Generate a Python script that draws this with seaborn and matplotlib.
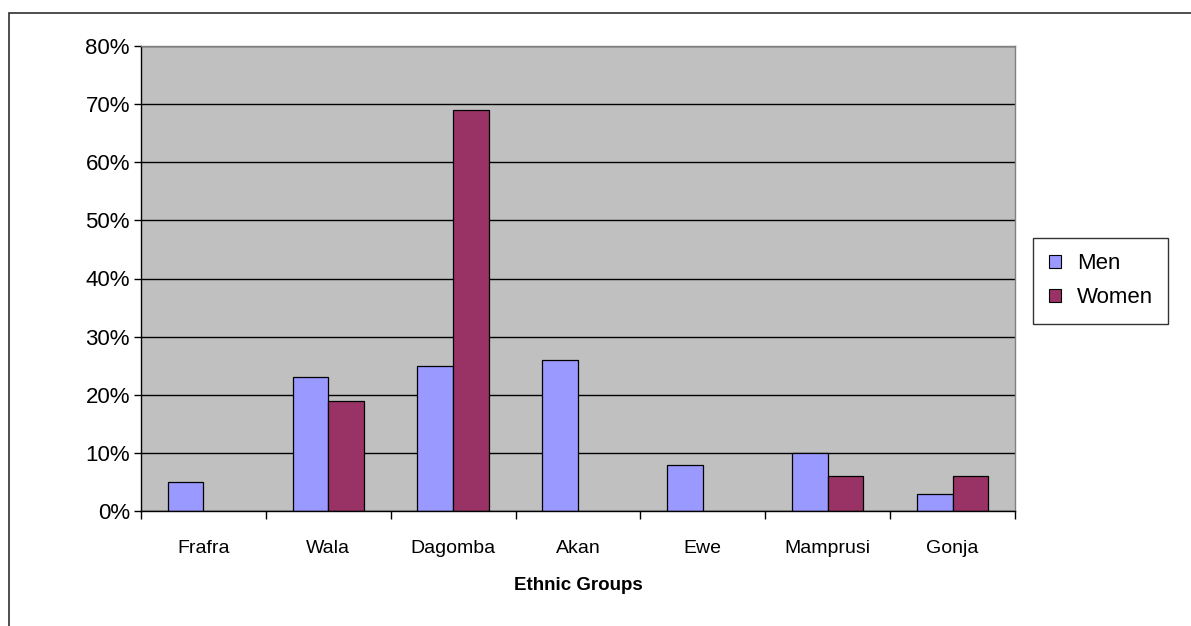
import numpy as np
import pandas as pd
import matplotlib
matplotlib.use("Agg")
import matplotlib.pyplot as plt
from matplotlib.patches import Rectangle
from matplotlib.ticker import PercentFormatter, FixedLocator
import seaborn as sns

groups = ["Frafra", "Wala", "Dagomba", "Akan", "Ewe", "Mamprusi", "Gonja"]
men = [5, 23, 25, 26, 8, 10, 3]
women = [np.nan, 19, 69, np.nan, np.nan, 6, 6]

df = pd.DataFrame({
    "group": groups * 2,
    "sex": ["Men"] * len(groups) + ["Women"] * len(groups),
    "pct": men + women,
})

sns.set_theme(style="white")
plt.rcParams["font.family"] = ["Liberation Sans", "DejaVu Sans"]
plt.rcParams["text.color"] = "black"
plt.rcParams["xtick.color"] = "black"
plt.rcParams["ytick.color"] = "black"
plt.rcParams["axes.labelcolor"] = "black"

fig = plt.figure(figsize=(11.91, 6.26), dpi=100)
ax = fig.add_axes([141 / 1191, 1 - 511 / 626, 874 / 1191, 465 / 626])
ax.set_facecolor("#C0C0C0")

sns.barplot(data=df, x="group", y="pct", hue="sex", order=groups,
            palette={"Men": "#9999FF", "Women": "#993366"}, saturation=1,
            width=0.571, edgecolor="black", linewidth=0.9,
            errorbar=None, ax=ax)

ax.set_ylim(0, 80)
ax.set_xlim(-0.5, len(groups) - 0.5)
ax.yaxis.set_major_locator(FixedLocator(np.arange(0, 81, 10)))
ax.yaxis.set_major_formatter(PercentFormatter(decimals=0))
ax.set_axisbelow(True)
ax.yaxis.grid(True, color="black", linewidth=1)
ax.xaxis.grid(False)

ax.tick_params(axis="y", labelsize=16, length=5, width=1, color="black",
               direction="out", left=True, pad=3)
ax.tick_params(axis="x", which="major", labelsize=14, length=0, pad=21)
ax.set_xticks(np.arange(-0.5, len(groups)), minor=True)
ax.tick_params(axis="x", which="minor", length=6, width=1, color="black",
               direction="out", bottom=True)

for s in ["left", "bottom"]:
    ax.spines[s].set_color("black")
    ax.spines[s].set_linewidth(1)
for s in ["right", "top"]:
    ax.spines[s].set_color("#808080")
    ax.spines[s].set_linewidth(1)

ax.set_ylabel("")
ax.set_xlabel("Ethnic Groups", fontsize=13.5, fontweight="bold", labelpad=14)

sns.move_legend(ax, "center left", bbox_to_anchor=(1.021, 0.495), title=None,
                frameon=True, fancybox=False, fontsize=16, handlelength=0.55,
                handleheight=0.55, handletextpad=0.7, borderpad=0.7,
                labelspacing=0.6, borderaxespad=0)
leg = ax.get_legend()
leg.get_frame().set_edgecolor("black")
leg.get_frame().set_linewidth(1)
leg.get_frame().set_facecolor("white")
for h in leg.legend_handles:
    h.set_edgecolor("black")
    h.set_linewidth(0.8)

fig.patches.append(Rectangle((9 / 1191, -0.1), 1.2, 1 - 13 / 626 + 0.1,
                             transform=fig.transFigure, fill=False,
                             edgecolor="#303030", linewidth=1.2))

fig.savefig("out.png", dpi=100)
